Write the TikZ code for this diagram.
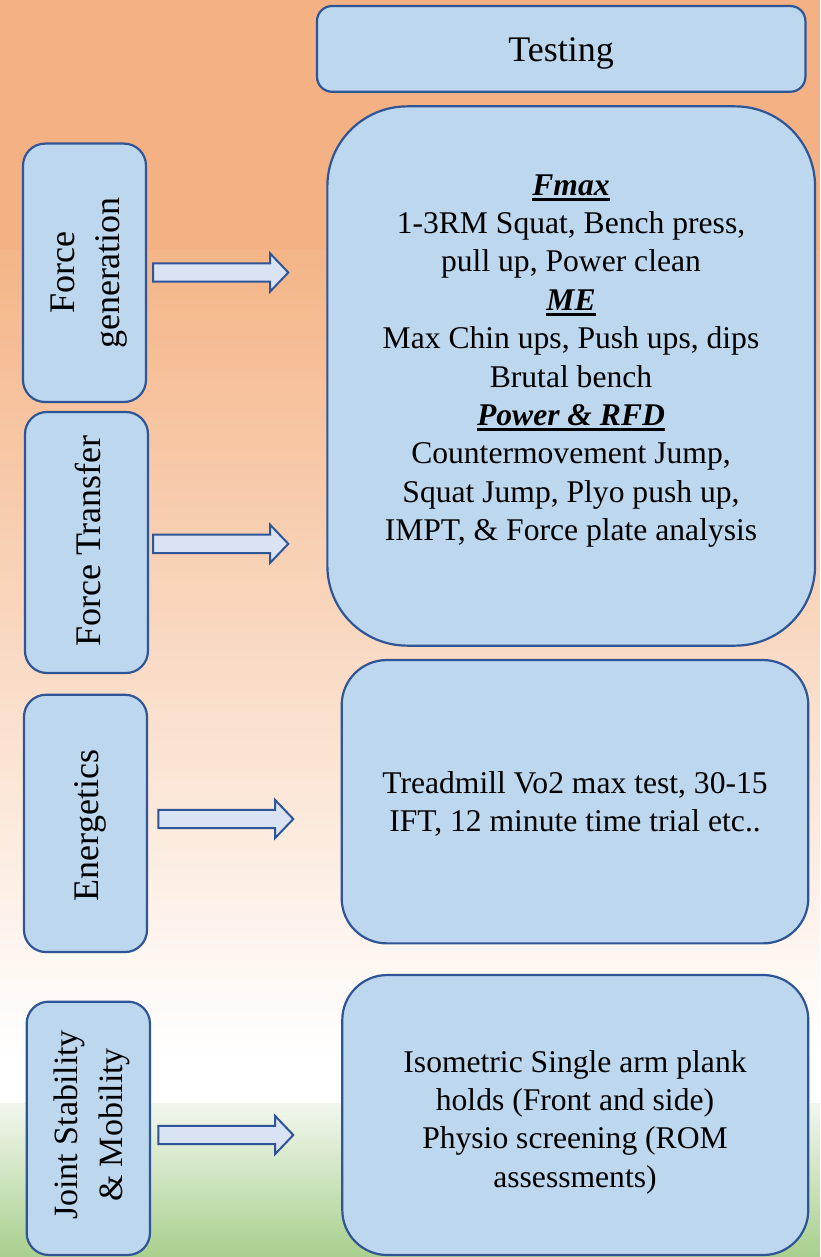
\documentclass[tikz,border=0pt]{standalone}
\usepackage{fontspec}
\newfontfamily\libser{Liberation Serif}
\usetikzlibrary{calc}
\definecolor{boxfill}{HTML}{BDD7EE}
\definecolor{boxline}{HTML}{2F5597}
\definecolor{arrfill}{HTML}{DAE3F3}
\definecolor{bgA}{HTML}{F4B183}
\definecolor{bgB}{HTML}{F4B588}
\definecolor{grA}{HTML}{F1F6ED}
\definecolor{grB}{HTML}{A9D08E}
\newcommand\hdul[1]{\setbox0=\hbox{\libser\bfseries\itshape #1}\rlap{\rule[-5.5pt]{\wd0}{2.8pt}}\box0}
\newcommand\blockarrow[2]{\path[blockarr] ($(#1)+(0,-9.2)$) -- ($(#2)+(-18.3,-9.2)$) -- ($(#2)+(-18.3,-19.2)$) -- (#2) -- ($(#2)+(-18.3,19.2)$) -- ($(#2)+(-18.3,9.2)$) -- ($(#1)+(0,9.2)$) -- cycle;}
\tikzset{
  sbox/.style={draw=boxline, fill=boxfill, line width=2.2pt, rectangle, inner sep=0pt, outer sep=0pt},
  blockarr/.style={draw=boxline, fill=arrfill, line width=2pt, line join=miter},
  bodytxt/.style={align=center, font=\fontsize{31.6}{38.4}\selectfont\libser, inner sep=0pt, text=black},
  sidetxt/.style={align=center, rotate=90, font=\fontsize{36}{45}\selectfont\libser, inner sep=0pt, text=black},
}
\begin{document}
\begin{tikzpicture}[x=1pt, y=-1pt]
\useasboundingbox (0,0) rectangle (820,1257);
% background
\fill[bgA] (0,0) rectangle (820,251);
\foreach \i in {0,...,80}{\pgfmathsetmacro\p{100-100*\i/80}\fill[bgB!\p!white] (0,250+10*\i) rectangle (820,261+10*\i);}
\fill[white] (0,1060) rectangle (820,1104);
\foreach \i in {0,...,38}{\pgfmathsetmacro\p{100*\i/38}\fill[grB!\p!grA] (0,1103+4*\i) rectangle (820,1108+4*\i);}

% boxes
\node[sbox, rounded corners=15pt, minimum width=488.4pt, minimum height=85.7pt] (test) at (561.2,48.9) {};
\node[sbox, rounded corners=80pt, minimum width=487.7pt, minimum height=539.3pt] (b1) at (571.2,376) {};
\node[sbox, rounded corners=45pt, minimum width=466.6pt, minimum height=283.3pt] (b2) at (575,801.7) {};
\node[sbox, rounded corners=45pt, minimum width=466pt, minimum height=280pt] (b3) at (575.3,1115) {};
\node[sbox, rounded corners=22pt, minimum width=123pt, minimum height=258.4pt] (fg) at (84.5,272.8) {};
\node[sbox, rounded corners=22pt, minimum width=123pt, minimum height=261pt] (ft) at (86.5,542.5) {};
\node[sbox, rounded corners=22pt, minimum width=123pt, minimum height=257.3pt] (en) at (85.5,823.4) {};
\node[sbox, rounded corners=22pt, minimum width=123.3pt, minimum height=253.3pt] (js) at (88.3,1128.3) {};

% texts
\node[bodytxt, font=\fontsize{36}{43}\selectfont\libser] (testl) at (561,53.7) {Testing};
\node[bodytxt] (t1) at (571,361) {\hdul{Fmax}\\1-3RM Squat, Bench press,\\pull up, Power clean\\\hdul{ME}\\Max Chin ups, Push ups, dips\\Brutal bench\\\hdul{Power \& RFD}\\Countermovement Jump,\\Squat Jump, Plyo push up,\\IMPT, \& Force plate analysis};
\node[bodytxt] (t2) at (575,804) {Treadmill Vo2 max test, 30-15\\IFT, 12 minute time trial etc..};
\node[bodytxt] (t3) at (575,1122) {Isometric Single arm plank\\holds (Front and side)\\Physio screening (ROM\\assessments)};

\node[sidetxt] (fgl) at (89,273) {Force\\generation};
\node[sidetxt] (ftl) at (87.6,541) {Force Transfer};
\node[sidetxt] (enl) at (90.5,825.5) {Energetics};
\node[sidetxt, font=\fontsize{34}{45}\selectfont\libser] (jsl) at (91.5,1125) {Joint Stability\\\& Mobility};

% arrows
\coordinate (a1s) at (153,272.5);   \coordinate (a1t) at (288.3,272.5);
\coordinate (a2s) at (153,543.8);   \coordinate (a2t) at (288.3,543.8);
\coordinate (a3s) at (158.3,819);   \coordinate (a3t) at (293.3,819);
\coordinate (a4s) at (158.3,1135);  \coordinate (a4t) at (293.3,1135);
\blockarrow{a1s}{a1t}
\blockarrow{a2s}{a2t}
\blockarrow{a3s}{a3t}
\blockarrow{a4s}{a4t}
\end{tikzpicture}
\end{document}
